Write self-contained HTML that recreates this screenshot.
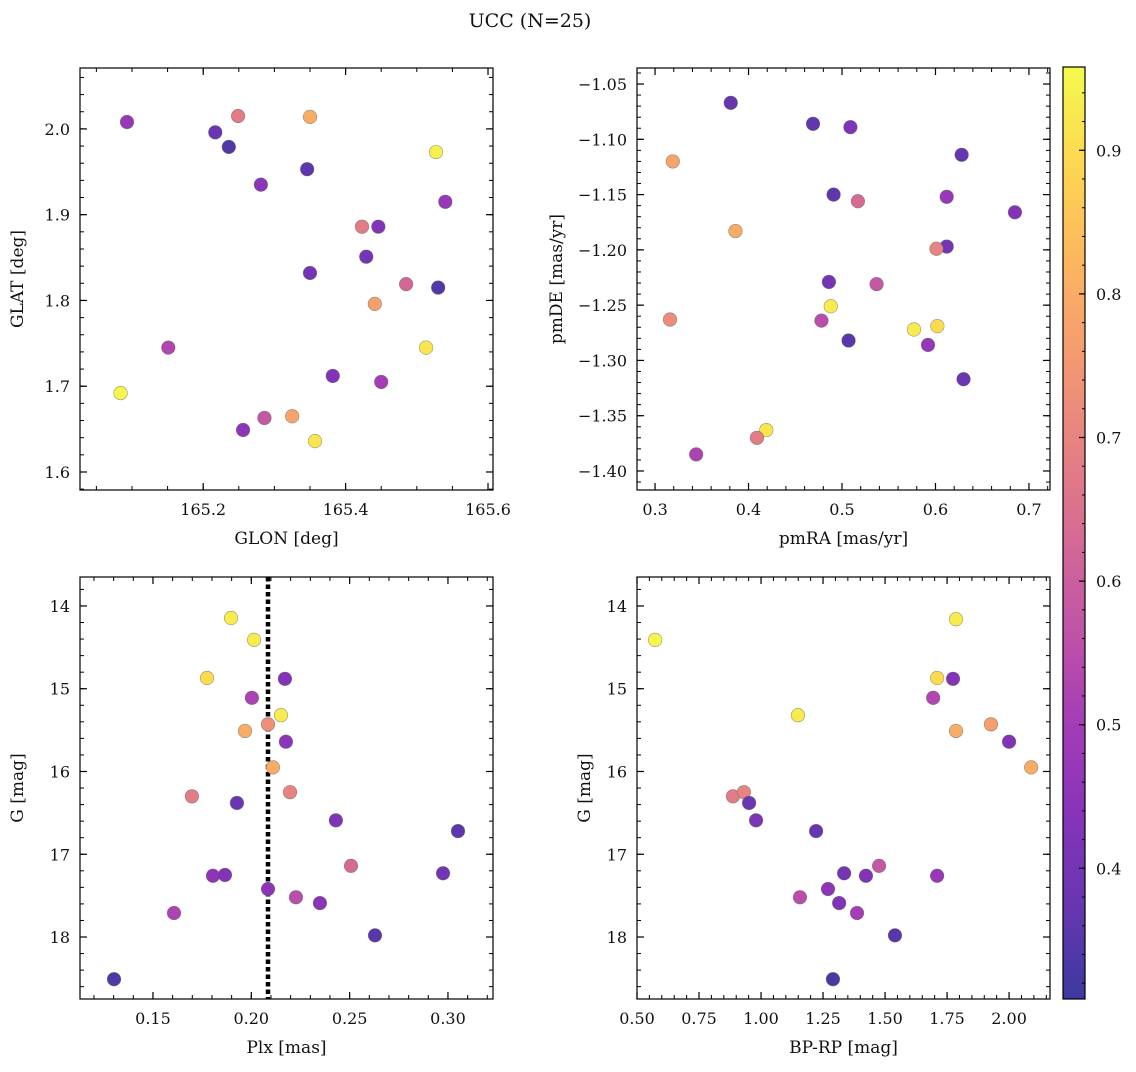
<!DOCTYPE html>
<html><head><meta charset="utf-8"><style>
body{margin:0;background:#fff;}
svg text{font-family:"DejaVu Serif","Liberation Serif",serif;fill:#111;}
</style></head><body>
<svg id="chart" width="1136" height="1067" viewBox="0 0 1136 1067" xmlns="http://www.w3.org/2000/svg">
<text x="530" y="27" font-size="19" text-anchor="middle">UCC (N=25)</text>
</svg>
<script>
// Panel 1: GLON vs GLAT
const glon=[165.093,165.217,165.236,165.249,165.350,165.527,165.281,165.346,165.540,165.423,165.446,165.429,165.350,165.485,165.530,165.441,165.151,165.513,165.084,165.382,165.450,165.256,165.286,165.325,165.357];
const glat=[2.008,1.996,1.979,2.015,2.014,1.973,1.935,1.953,1.915,1.886,1.886,1.851,1.832,1.819,1.815,1.796,1.745,1.745,1.692,1.712,1.705,1.649,1.663,1.665,1.636];
const prob1=[0.47,0.38,0.34,0.68,0.80,0.94,0.45,0.36,0.47,0.68,0.43,0.40,0.40,0.62,0.34,0.77,0.53,0.92,0.95,0.43,0.50,0.45,0.58,0.78,0.92];
// Panel 2: pmRA vs pmDE
const pmra=[0.381,0.469,0.509,0.628,0.319,0.491,0.612,0.517,0.685,0.386,0.612,0.601,0.486,0.537,0.488,0.316,0.478,0.577,0.602,0.592,0.507,0.630,0.419,0.409,0.344];
const pmde=[-1.067,-1.086,-1.089,-1.114,-1.120,-1.150,-1.152,-1.156,-1.166,-1.183,-1.197,-1.199,-1.229,-1.231,-1.251,-1.263,-1.264,-1.272,-1.269,-1.286,-1.282,-1.317,-1.363,-1.370,-1.385];
const prob2=[0.37,0.36,0.42,0.37,0.78,0.36,0.47,0.63,0.43,0.80,0.40,0.70,0.40,0.58,0.93,0.72,0.55,0.93,0.90,0.47,0.35,0.38,0.92,0.68,0.52];
// Panel 3: Plx vs G
const plx=[0.1897,0.2014,0.1775,0.2171,0.2003,0.2151,0.2085,0.1968,0.2176,0.2110,0.1698,0.2197,0.1927,0.2430,0.3051,0.2507,0.1805,0.1866,0.2975,0.2085,0.2227,0.2349,0.1607,0.2629,0.1302];
const gmag3=[14.145,14.41,14.87,14.88,15.11,15.32,15.43,15.51,15.64,15.95,16.30,16.25,16.38,16.59,16.72,17.14,17.26,17.25,17.23,17.42,17.52,17.59,17.71,17.98,18.51];
const prob3=[0.93,0.93,0.90,0.43,0.52,0.93,0.73,0.80,0.45,0.80,0.68,0.70,0.38,0.42,0.36,0.63,0.45,0.43,0.40,0.45,0.55,0.45,0.52,0.35,0.34];
const plxLine=[0.2085];
// Panel 4: BP-RP vs G
const bprp=[0.573,1.786,1.710,1.774,1.694,1.149,1.927,1.786,2.0,2.089,0.887,0.931,0.952,0.980,1.222,1.335,1.476,1.423,1.710,1.270,1.157,1.315,1.387,1.540,1.290];
const gmag4=[14.41,14.16,14.87,14.88,15.11,15.32,15.43,15.51,15.64,15.95,16.30,16.25,16.38,16.59,16.72,17.23,17.14,17.26,17.26,17.42,17.52,17.59,17.71,17.98,18.51];
const prob4=[0.95,0.93,0.90,0.43,0.53,0.93,0.77,0.80,0.43,0.80,0.68,0.70,0.38,0.42,0.37,0.40,0.58,0.43,0.47,0.45,0.55,0.43,0.50,0.35,0.33];
// tick labels
const ticks1x=[165.2,165.4,165.6], ticks1y=[1.6,1.7,1.8,1.9,2.0];
const ticks2x=[0.3,0.4,0.5,0.6,0.7], ticks2y=[-1.40,-1.35,-1.30,-1.25,-1.20,-1.15,-1.10,-1.05];
const ticks3x=[0.15,0.20,0.25,0.30], ticksGy=[14,15,16,17,18];
const ticks4x=[0.50,0.75,1.00,1.25,1.50,1.75,2.00];
const cbTicks=[0.4,0.5,0.6,0.7,0.8,0.9];
const VMIN=0.309, VMAX=0.958;

const NS="http://www.w3.org/2000/svg";
const svg=document.getElementById('chart');
function mk(tag,attrs,parent){const e=document.createElementNS(NS,tag);for(const k in attrs)e.setAttribute(k,attrs[k]);(parent||svg).appendChild(e);return e;}
const stops=[[13,8,135],[65,4,157],[106,0,168],[143,13,164],[177,42,144],[204,71,120],[225,100,98],[242,132,75],[252,166,54],[252,206,37],[240,249,33]];
function plasma(t){t=Math.max(0,Math.min(1,t));const f=t*10,i=Math.min(9,Math.floor(f)),r=f-i;const a=stops[i],b=stops[i+1];
 const c=a.map((v,k)=>Math.round((v+(b[k]-v)*r)*0.8+255*0.2));return `rgb(${c[0]},${c[1]},${c[2]})`;}
function fmt(v,d){return (v<0?'\u2212':'')+Math.abs(v).toFixed(d);}

function panel(o){
 const g=mk('g',{});
 
 
 const sx=v=>o.x0+(v-o.xmin)/(o.xmax-o.xmin)*(o.x1-o.x0);
 const sy=o.inv?(v=>o.y0+(v-o.ymin)/(o.ymax-o.ymin)*(o.y1-o.y0)):(v=>o.y1-(v-o.ymin)/(o.ymax-o.ymin)*(o.y1-o.y0));
 // minor ticks
 for(let v=Math.ceil(o.xmin/o.xminor)*o.xminor; v<=o.xmax; v+=o.xminor){const X=sx(v);
  mk('line',{x1:X,x2:X,y1:o.y1,y2:o.y1-4,stroke:'#000','stroke-width':1},g);mk('line',{x1:X,x2:X,y1:o.y0,y2:o.y0+4,stroke:'#000','stroke-width':1},g);}
 for(let v=Math.ceil(o.ymin/o.yminor)*o.yminor; v<=o.ymax; v+=o.yminor){const Y=sy(v);
  mk('line',{x1:o.x0,x2:o.x0+4,y1:Y,y2:Y,stroke:'#000','stroke-width':1},g);mk('line',{x1:o.x1,x2:o.x1-4,y1:Y,y2:Y,stroke:'#000','stroke-width':1},g);}
 o.xt.forEach(v=>{const X=sx(v);
  mk('line',{x1:X,x2:X,y1:o.y1,y2:o.y1-7,stroke:'#000','stroke-width':1.2},g);mk('line',{x1:X,x2:X,y1:o.y0,y2:o.y0+7,stroke:'#000','stroke-width':1.2},g);
  const t=mk('text',{x:X,y:o.y1+25,'font-size':16,'text-anchor':'middle'},g);t.textContent=fmt(v,o.xd);
  
  });
 o.yt.forEach(v=>{const Y=sy(v);
  mk('line',{x1:o.x0,x2:o.x0+7,y1:Y,y2:Y,stroke:'#000','stroke-width':1.2},g);mk('line',{x1:o.x1,x2:o.x1-7,y1:Y,y2:Y,stroke:'#000','stroke-width':1.2},g);
  const t=mk('text',{x:o.x0-10,y:Y+6,'font-size':16,'text-anchor':'end'},g);t.textContent=fmt(v,o.yd);
  
  });
 if(o.vline){o.vline.forEach(v=>{const l=mk('line',{x1:sx(v),x2:sx(v),y1:o.y0,y2:o.y1,stroke:'#000','stroke-width':4.5,'stroke-dasharray':'4.5,3'},g);
  
  });}
 o.xs.forEach((v,i)=>{const c=mk('circle',{cx:sx(v),cy:sy(o.ys[i]),r:6.8,fill:plasma((o.c[i]-VMIN)/(VMAX-VMIN)),stroke:'rgba(90,90,90,0.6)','stroke-width':0.6},g);
  
  });
 const fr=mk('rect',{x:o.x0,y:o.y0,width:o.x1-o.x0,height:o.y1-o.y0,fill:'none',stroke:'#000','stroke-width':1.2},g);
 
 
 const xl=mk('text',{x:(o.x0+o.x1)/2,y:o.y1+54,'font-size':17,'text-anchor':'middle'},g);xl.textContent=o.xl;
 
 
 const cx=o.x0-o.ylOff, cy=(o.y0+o.y1)/2;
 const yl=mk('text',{x:cx,y:cy,'font-size':17,'text-anchor':'middle',transform:`rotate(-90 ${cx} ${cy})`},g);yl.textContent=o.yl;
 
 
}
panel({name:'glon-glat-panel',x0:80,x1:493,y0:68,y1:490,xmin:165.027,xmax:165.607,ymin:1.579,ymax:2.071,xt:ticks1x,yt:ticks1y,xd:1,yd:1,xminor:0.05,yminor:0.02,xs:glon,ys:glat,c:prob1,xl:'GLON [deg]',yl:'GLAT [deg]',ylOff:57});
panel({name:'pm-panel',x0:637,x1:1050,y0:68,y1:490,xmin:0.2807,xmax:0.7225,ymin:-1.4172,ymax:-1.0355,xt:ticks2x,yt:ticks2y,xd:1,yd:2,xminor:0.02,yminor:0.01,xs:pmra,ys:pmde,c:prob2,xl:'pmRA [mas/yr]',yl:'pmDE [mas/yr]',ylOff:75});
panel({name:'plx-g-panel',x0:80,x1:493,y0:577,y1:999,xmin:0.1129,xmax:0.3229,ymin:13.65,ymax:18.749,inv:true,xt:ticks3x,yt:ticksGy,xd:2,yd:0,xminor:0.01,yminor:0.2,xs:plx,ys:gmag3,c:prob3,xl:'Plx [mas]',yl:'G [mag]',ylOff:57,vline:plxLine});
panel({name:'cmd-panel',x0:637,x1:1050,y0:577,y1:999,xmin:0.5,xmax:2.165,ymin:13.65,ymax:18.749,inv:true,xt:ticks4x,yt:ticksGy,xd:2,yd:0,xminor:0.05,yminor:0.2,xs:bprp,ys:gmag4,c:prob4,xl:'BP-RP [mag]',yl:'G [mag]',ylOff:47});
// colorbar
const cb=mk('g',{});


const defs=mk('defs',{},cb);const lg=mk('linearGradient',{id:'cbg',x1:0,y1:1,x2:0,y2:0},defs);
for(let i=0;i<=20;i++)mk('stop',{offset:i/20,'stop-color':plasma(i/20)},lg);
const CX0=1063,CX1=1085,CY0=67,CY1=999;
mk('rect',{x:CX0,y:CY0,width:CX1-CX0,height:CY1-CY0,fill:'url(#cbg)',stroke:'#000','stroke-width':1.2},cb);
const cy=v=>CY1-(v-VMIN)/(VMAX-VMIN)*(CY1-CY0);
for(let v=0.32;v<VMAX;v+=0.02){mk('line',{x1:CX1,x2:CX1-3,y1:cy(v),y2:cy(v),stroke:'#000','stroke-width':1},cb);}
cbTicks.forEach(v=>{mk('line',{x1:CX1,x2:CX1-6,y1:cy(v),y2:cy(v),stroke:'#000','stroke-width':1.2},cb);
 const t=mk('text',{x:CX1+11,y:cy(v)+6,'font-size':16},cb);t.textContent=v.toFixed(1);
 
 });
</script>
</body></html>
